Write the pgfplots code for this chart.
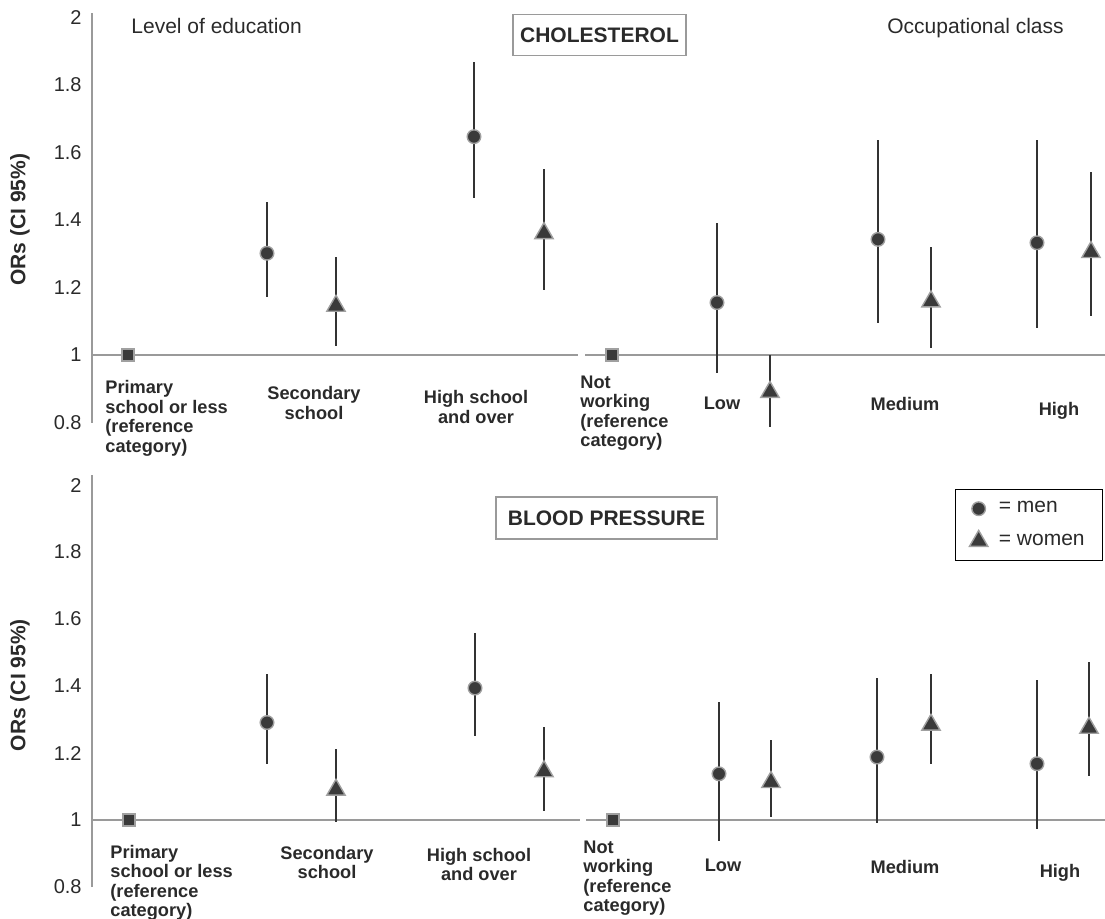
\documentclass[border=0pt]{standalone}
\usepackage{pgfplots}
\pgfplotsset{compat=1.18}
\usepackage{pgfplotstable}
\usepackage{fontspec}
\setmainfont{Liberation Sans}
\definecolor{mfill}{HTML}{3A3A3A}
\definecolor{medge}{HTML}{A0A0A0}
\definecolor{axgray}{HTML}{9A9A9A}
\definecolor{txt}{HTML}{2A2A2A}
\definecolor{barc}{HTML}{333333}

% cholesterol
\pgfplotstableread{
x y lo hi
267 1.301 1.171 1.452
474 1.646 1.464 1.868
717 1.155 0.947 1.391
878 1.342 1.094 1.636
1037 1.332 1.081 1.636
}\cholmen
\pgfplotstableread{
x y lo hi
336 1.145 1.027 1.291
544 1.360 1.192 1.550
770 0.890 0.788 1.000
931 1.158 1.020 1.319
1091 1.304 1.115 1.540
}\cholwomen
% blood pressure
\pgfplotstableread{
x y lo hi
267 1.291 1.168 1.437
475 1.394 1.251 1.559
719 1.138 0.938 1.351
877 1.188 0.990 1.424
1037 1.168 0.972 1.419
}\bpmen
\pgfplotstableread{
x y lo hi
336 1.090 0.995 1.212
544 1.145 1.028 1.279
771 1.113 1.010 1.240
931 1.284 1.168 1.437
1089 1.275 1.130 1.471
}\bpwomen

\pgfplotsset{
  panel/.style={
    scale only axis, width=506.5pt, xmin=92, xmax=1105, clip=false,
    axis x line=none, axis y line*=left,
    y axis line style={draw=axgray, line width=0.8pt},
    ytick={0.8,1,1.2,1.4,1.6,1.8,2},
    yticklabels={0.8,1,1.2,1.4,1.6,1.8,2},
    /pgf/number format/assume math mode=true,
    major tick length=0pt,
    yticklabel style={font=\fontsize{10}{12}\selectfont, text=txt, anchor=east, inner sep=0pt, xshift=-5pt},
    ylabel={ORs (CI 95\%)},
    every axis y label/.style={at={(axis description cs:-0.0711,0.5)}, rotate=90, anchor=center, font=\bfseries\fontsize{10.5}{12}\selectfont, text=txt},
  },
  menp/.style={only marks, mark=*, mark size=3.4pt,
    mark options={fill=mfill, draw=medge, line width=0.7pt},
    error bars/y dir=both, error bars/y explicit, error bars/error mark=none,
    error bars/error bar style={draw=barc, line width=0.9pt}},
  womenp/.style={only marks, mark=triangle*, mark size=5.3pt,
    mark options={fill=mfill, draw=medge, line width=0.7pt},
    error bars/y dir=both, error bars/y explicit, error bars/error mark=none,
    error bars/error bar style={draw=barc, line width=0.9pt}},
  refp/.style={only marks, mark=square*, mark size=3pt,
    mark options={fill=mfill, draw=medge, line width=0.7pt}, forget plot},
  oneline/.style={draw=axgray, line width=0.9pt, forget plot, mark=none},
}
\tikzset{
  cat/.style={font=\bfseries\fontsize{9.1}{9.75}\selectfont, text=txt, inner sep=0pt},
  head/.style={font=\fontsize{10.5}{12}\selectfont, text=txt, inner sep=0pt},
  boxt/.style={font=\bfseries\fontsize{10.5}{12}\selectfont, text=txt, draw=axgray, line width=0.9pt, inner sep=0pt},
}

\begin{document}
\begin{tikzpicture}
\useasboundingbox (0,0) rectangle (552.5pt,-459pt);

% ---------- top panel: cholesterol ----------
\begin{axis}[panel, at={(46pt,-211.25pt)}, anchor=south west,
  height=204.75pt, ymin=0.8, ymax=2.012,
  every axis y label/.append style={at={(axis description cs:-0.0711,0.495)}}]
  \addplot[oneline] coordinates {(92,1) (578,1)};
  \addplot[oneline] coordinates {(585,1) (1105,1)};
  \addplot[refp] coordinates {(128,1) (612,1)};
  \addplot[menp] table[x=x, y=y, y error plus expr=\thisrow{hi}-\thisrow{y}, y error minus expr=\thisrow{y}-\thisrow{lo}] {\cholmen};
  \addplot[womenp] table[x=x, y=y, y error plus expr=\thisrow{hi}-\thisrow{y}, y error minus expr=\thisrow{y}-\thisrow{lo}] {\cholwomen};

  \node[head, anchor=base west] at (axis cs:131,1.9526) {Level of education};
  \node[head, anchor=base west] at (axis cs:887,1.9526) {Occupational class};
  \node[boxt, minimum width=86.5pt, minimum height=20.5pt] at (axis cs:599.5,1.947) {CHOLESTEROL};

  \node[cat, anchor=north west, align=left] at (axis cs:105,0.9247) {Primary\\school or less\\(reference\\category)};
  \node[cat, anchor=north, align=center] at (axis cs:314,0.9070) {Secondary\\school};
  \node[cat, anchor=north, align=center] at (axis cs:476,0.8951) {High school\\and over};
  \node[cat, anchor=north west, align=left] at (axis cs:580,0.9396) {Not\\working\\(reference\\category)};
  \node[cat, anchor=north] at (axis cs:722,0.8773) {Low};
  \node[cat, anchor=north] at (axis cs:905,0.8744) {Medium};
  \node[cat, anchor=north] at (axis cs:1059,0.8596) {High};
\end{axis}

% ---------- bottom panel: blood pressure ----------
\begin{axis}[panel, at={(46pt,-443.5pt)}, anchor=south west,
  height=206pt, ymin=0.8, ymax=2.03,
  every axis y label/.append style={at={(axis description cs:-0.0711,0.49)}},
  legend style={at={(axis cs:955,1.988)}, anchor=north west, draw=black,
    line width=0.5pt, font=\fontsize{10.5}{12}\selectfont, text=txt,
    inner xsep=7pt, inner ysep=4pt, row sep=5pt,
    /tikz/every odd column/.append style={column sep=3.5pt}},
  legend cell align=left,
  legend image code/.code={\draw[#1] plot coordinates {(0pt,0pt)};}]
  \addplot[oneline] coordinates {(92,1) (580,1)};
  \addplot[oneline] coordinates {(586,1) (1105,1)};
  \addplot[refp] coordinates {(129,1) (613,1)};
  \addplot[menp] table[x=x, y=y, y error plus expr=\thisrow{hi}-\thisrow{y}, y error minus expr=\thisrow{y}-\thisrow{lo}] {\bpmen};
  \addlegendentry{= men}
  \addplot[womenp] table[x=x, y=y, y error plus expr=\thisrow{hi}-\thisrow{y}, y error minus expr=\thisrow{y}-\thisrow{lo}] {\bpwomen};
  \addlegendentry{= women}

  \node[boxt, minimum width=110.5pt, minimum height=21pt] at (axis cs:606.5,1.9015) {BLOOD PRESSURE};

  \node[cat, anchor=north west, align=left] at (axis cs:110,0.9270) {Primary\\school or less\\(reference\\category)};
  \node[cat, anchor=north, align=center] at (axis cs:327,0.9242) {Secondary\\school};
  \node[cat, anchor=north, align=center] at (axis cs:479,0.9182) {High school\\and over};
  \node[cat, anchor=north west, align=left] at (axis cs:583,0.9391) {Not\\working\\(reference\\category)};
  \node[cat, anchor=north] at (axis cs:723,0.8854) {Low};
  \node[cat, anchor=north] at (axis cs:905,0.8824) {Medium};
  \node[cat, anchor=north] at (axis cs:1060,0.8675) {High};
\end{axis}
\end{tikzpicture}
\end{document}
